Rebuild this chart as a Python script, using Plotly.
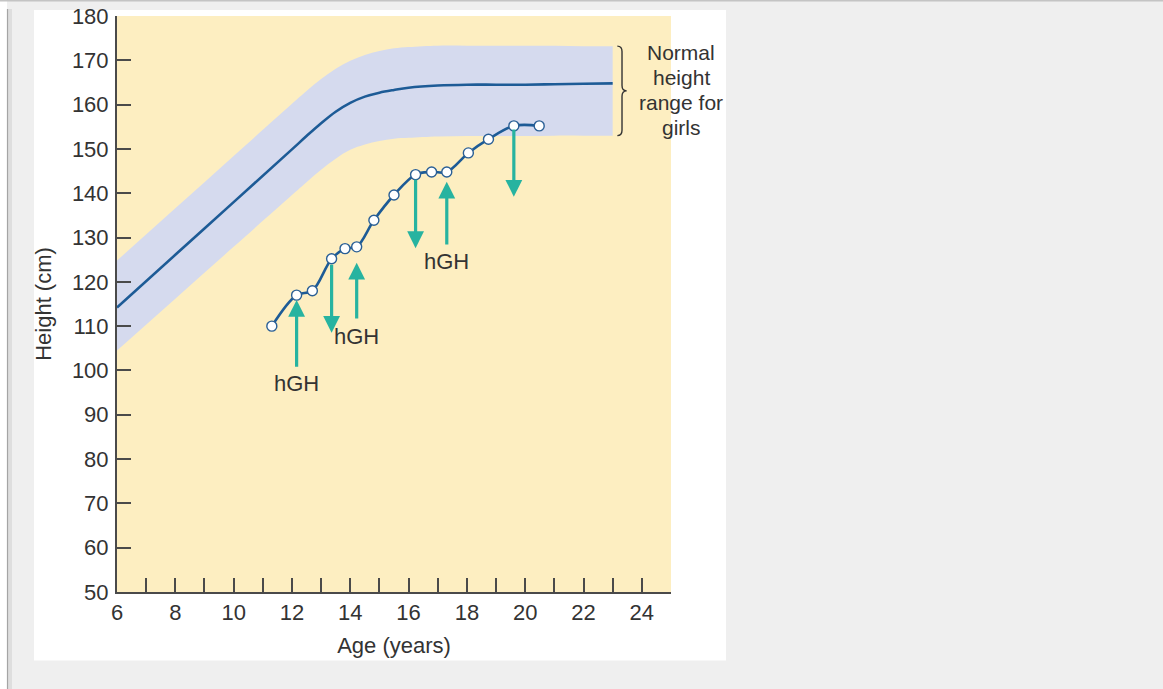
import plotly.graph_objects as go

# ---------------- data ----------------
norm_ages = [6, 8, 10, 12, 12.5, 13, 13.5, 14, 14.5, 15, 15.5, 16, 17, 18, 19, 20, 21, 22, 23]
norm_mean = [114.2, 126.1, 138.0, 149.9, 152.9, 155.8, 158.4, 160.4, 161.8, 162.7, 163.3, 163.8, 164.3,
             164.5, 164.5, 164.5, 164.6, 164.7, 164.8]
norm_upper = [124.8, 136.6, 148.4, 160.2, 163.1, 165.8, 168.1, 169.9, 171.2, 172.1, 172.7, 173.0, 173.3,
              173.3, 173.3, 173.3, 173.3, 173.2, 173.2]
norm_lower = [104.5, 116.2, 127.9, 139.6, 142.5, 145.3, 147.8, 149.8, 151.0, 151.8, 152.3, 152.5, 152.8,
              152.9, 152.9, 152.9, 153.0, 153.0, 153.0]

patient_ages = [11.31, 12.16, 12.70, 13.36, 13.82, 14.22, 14.81, 15.50, 16.24, 16.79, 17.31, 18.05, 18.74,
                19.61, 20.48]
patient_heights = [110.0, 117.0, 118.0, 125.2, 127.5, 127.9, 133.9, 139.6, 144.2, 144.8, 144.8, 149.1,
                   152.2, 155.2, 155.2]

# hGH events: index of the measurement, arrow tail height, arrow tip height
arrow_idx = [1, 3, 5, 8, 10, 13]
arrow_tail = [100.5, 124.2, 111.4, 143.4, 128.1, 154.7]
arrow_tip = [115.9, 108.5, 124.3, 127.6, 142.6, 139.2]

label_idx = [1, 5, 10]
label_heights = [97.0, 107.6, 124.5]
label_text = "hGH"

range_label_lines = ["Normal", "height", "range for", "girls"]
x_title = "Age (years)"
y_title = "Height (cm)"

x_tickvals = [6, 8, 10, 12, 14, 16, 18, 20, 22, 24]
y_tickvals = [50, 60, 70, 80, 90, 100, 110, 120, 130, 140, 150, 160, 170, 180]

# ---------------- styles ----------------
FONT = "Liberation Sans, Arial, sans-serif"
TXT = "#333333"
AXC = "#4a4a4a"
BLUE = "#1d5b96"
BAND = "#d5daee"
YELLOW = "#fdeec1"
TEAL = "#27b3a0"
FS = 22

W, H = 1163, 689
ML, MR, MT, MB = 117, 492, 16, 97
PW, PH = W - ML - MR, H - MT - MB


def px(xp):
    return (xp - ML) / PW


def py(yp):
    return (H - MB - yp) / PH


fig = go.Figure()

# normal band
fig.add_trace(go.Scatter(x=norm_ages, y=norm_lower, mode="lines", line=dict(width=0, shape="spline"),
                         hoverinfo="skip", showlegend=False))
fig.add_trace(go.Scatter(x=norm_ages, y=norm_upper, mode="lines", line=dict(width=0, shape="spline"),
                         fill="tonexty", fillcolor=BAND, hoverinfo="skip", showlegend=False))
# mean line
fig.add_trace(go.Scatter(x=norm_ages, y=norm_mean, mode="lines",
                         line=dict(color=BLUE, width=2.6, shape="spline"), showlegend=False))
# patient growth curve
fig.add_trace(go.Scatter(x=patient_ages, y=patient_heights, mode="lines+markers",
                         line=dict(color=BLUE, width=2.6, shape="spline", smoothing=1.0),
                         marker=dict(size=10, color="white", line=dict(color="#2a5f95", width=1.4)),
                         showlegend=False))

annotations = []
for i, tail, tip in zip(arrow_idx, arrow_tail, arrow_tip):
    a = patient_ages[i]
    annotations.append(dict(x=a, y=tip, ax=a, ay=tail, xref="x", yref="y", axref="x", ayref="y",
                            text="", showarrow=True, arrowhead=2, arrowsize=1.05, arrowwidth=3.2,
                            arrowcolor=TEAL, standoff=0, startstandoff=0))
for i, h in zip(label_idx, label_heights):
    annotations.append(dict(x=patient_ages[i], y=h, xref="x", yref="y", text=label_text, showarrow=False,
                            font=dict(family=FONT, size=FS, color=TXT), xanchor="center", yanchor="middle"))
for k, line in enumerate(range_label_lines):
    annotations.append(dict(x=px(681), y=py(52 + 25 * k), xref="paper", yref="paper", text=line,
                            showarrow=False, font=dict(family=FONT, size=21, color=TXT),
                            xanchor="center", yanchor="middle"))

# brace built from the band's end values
b_top, b_bot = norm_upper[-1], norm_lower[-1]
b_mid = (b_top + b_bot) / 2
x0, w, r = 23.16, 0.32, 1.2
wh = w / 2
brace = (f"M {x0},{b_top} Q {x0+wh},{b_top} {x0+wh},{b_top-r} L {x0+wh},{b_mid+r} "
         f"Q {x0+wh},{b_mid} {x0+w},{b_mid} Q {x0+wh},{b_mid} {x0+wh},{b_mid-r} "
         f"L {x0+wh},{b_bot+r} Q {x0+wh},{b_bot} {x0},{b_bot}")

shapes = [
    # white card
    dict(type="rect", xref="paper", yref="paper", x0=px(34), x1=px(726), y0=py(660.5), y1=py(10),
         fillcolor="white", line=dict(width=0), layer="below"),
    # yellow plot area
    dict(type="rect", xref="paper", yref="paper", x0=0, x1=1, y0=0, y1=1,
         fillcolor=YELLOW, line=dict(width=0), layer="below"),
    # page chrome
    dict(type="rect", xref="paper", yref="paper", x0=px(0), x1=px(7), y0=py(H), y1=py(1),
         fillcolor="white", line=dict(width=0), layer="below"),
    dict(type="rect", xref="paper", yref="paper", x0=px(8), x1=px(12), y0=py(H), y1=py(9),
         fillcolor="#dedede", line=dict(width=0), layer="below"),
    dict(type="line", xref="paper", yref="paper", x0=px(7.5), x1=px(7.5), y0=py(H), y1=py(9),
         line=dict(color="#a5a5a5", width=1.2), layer="below"),
    dict(type="line", xref="paper", yref="paper", x0=px(0), x1=px(W), y0=py(0.7), y1=py(0.7),
         line=dict(color="#c4c4c4", width=1.5), layer="below"),
    # brace
    dict(type="path", xref="x", yref="y", path=brace, line=dict(color=TXT, width=1.4)),
]

fig.update_layout(
    width=W, height=H, autosize=False,
    margin=dict(l=ML, r=MR, t=MT, b=MB, pad=0, autoexpand=False),
    paper_bgcolor="#efefef", plot_bgcolor="rgba(0,0,0,0)",
    font=dict(family=FONT, size=FS, color=TXT),
    showlegend=False,
    annotations=annotations,
    shapes=shapes,
    xaxis=dict(range=[6, 25], tickvals=x_tickvals, ticks="inside", ticklen=14, tickwidth=2, tickcolor=AXC,
               showline=True, linewidth=2, linecolor=AXC, showgrid=False, zeroline=False, automargin=False,
               minor=dict(dtick=1, tick0=6, ticks="inside", ticklen=14, tickwidth=2, tickcolor=AXC,
                          showgrid=False),
               tickfont=dict(family=FONT, size=FS, color=TXT), ticklabelstandoff=0,
               title=dict(text=x_title, font=dict(family=FONT, size=FS, color=TXT), standoff=13)),
    yaxis=dict(range=[50, 180], tickvals=y_tickvals, ticks="inside", ticklen=14, tickwidth=2, tickcolor=AXC,
               showline=True, linewidth=2, linecolor=AXC, showgrid=False, zeroline=False, automargin=False,
               tickfont=dict(family=FONT, size=FS, color=TXT), ticklabelstandoff=2,
               title=dict(text=y_title, font=dict(family=FONT, size=FS, color=TXT), standoff=14)),
)

fig.write_html("out.html", config={"displayModeBar": False},
               post_script="document.body.style.margin='0';")
